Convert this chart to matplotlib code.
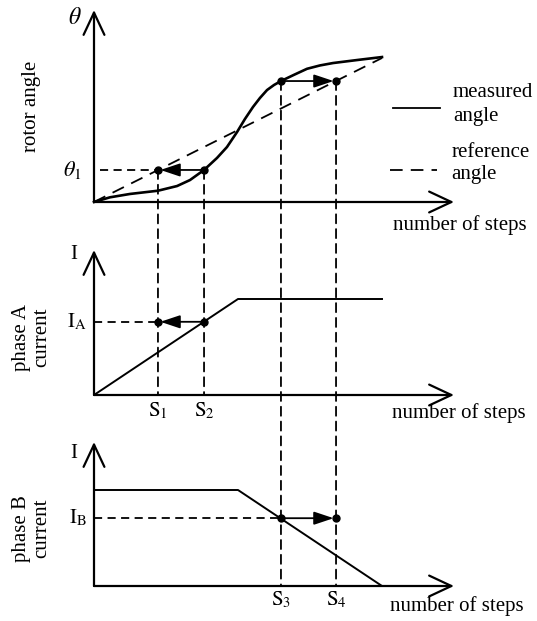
import matplotlib
matplotlib.use("Agg")
import matplotlib.pyplot as plt
from matplotlib.patches import ConnectionPatch

plt.rcParams['font.family'] = ['Liberation Serif', 'DejaVu Serif']
plt.rcParams['mathtext.fontset'] = 'stix'

# ---- data (schematic units: steps on x, quantity on y) ----
meas_steps = [0, 1.33, 3.0, 5.33, 6.92, 8.0, 9.17, 10.25, 11.08, 11.92, 12.58, 13.25,
              13.83, 14.42, 15.0, 15.58, 16.67, 17.75, 18.83, 19.92, 21.92, 24]
meas_angle = [0, 0.39, 0.67, 0.94, 1.33, 1.83, 2.67, 3.67, 4.58, 5.83, 6.92, 7.92,
              8.67, 9.33, 9.75, 10.08, 10.6, 11.1, 11.38, 11.58, 11.83, 12.08]
ref_steps = [0, 24]
ref_angle = [0, 12]
phase_a_steps = [0, 12, 24]
phase_a_current = [0, 8.0, 8.0]
phase_b_steps = [0, 12, 24]
phase_b_current = [8.0, 8.0, 0]
S1, S2, S3, S4 = 5.33, 9.17, 15.58, 20.17
theta1 = 2.67
theta3 = 10.08
I_A = 6.1
I_B = 5.65
step_labels = [r'$\mathrm{S}_1$', r'$\mathrm{S}_2$', r'$\mathrm{S}_3$', r'$\mathrm{S}_4$']

W, H = 537, 621
fig = plt.figure(figsize=(W / 100, H / 100), dpi=100)

def make_ax(bottom_px, top_px, ytop):
    ax = fig.add_axes([94 / W, 1 - bottom_px / H, (454 - 94) / W, (bottom_px - top_px) / H])
    ax.set_xlim(0, 30)
    ax.set_ylim(0, ytop)
    ax.axis('off')
    ap = dict(arrowstyle='->,head_length=1.6,head_width=0.75', lw=1.6, color='black',
              shrinkA=0, shrinkB=0, mutation_scale=10)
    ax.annotate('', xy=(0, 1), xytext=(0, 0), xycoords='axes fraction', arrowprops=ap,
                annotation_clip=False)
    ax.annotate('', xy=(1, 0), xytext=(0, 0), xycoords='axes fraction', arrowprops=ap,
                annotation_clip=False)
    return ax

ax1 = make_ax(202, 10, 16.0)
ax2 = make_ax(395, 250, 145 / 12)
ax3 = make_ax(586, 442, 12.0)

FS = 15
dash_v = (0, (5, 3.2))
dash_h = (0, (4.5, 3))
arrow_p = dict(arrowstyle='-|>,head_length=1.2,head_width=0.4', lw=1.3, color='black',
               shrinkA=0, shrinkB=0, mutation_scale=10)

# ---- top panel ----
ax1.plot(meas_steps, meas_angle, color='black', lw=1.9, clip_on=False, solid_joinstyle='round')
ax1.plot(ref_steps, ref_angle, color='black', lw=1.3, linestyle=(0, (7, 4.5)), clip_on=False)
ax1.plot([0.5, S1], [theta1, theta1], color='black', lw=1.3, linestyle=dash_h)
ax1.plot([S1, S2], [theta1, theta1], 'o', color='black', ms=5)
ax1.plot([S3, S4], [theta3, theta3], 'o', color='black', ms=5)
ax1.annotate('', xy=(S1 + 0.2, theta1), xytext=(S2, theta1), arrowprops=arrow_p)
ax1.annotate('', xy=(S4 - 0.2, theta3), xytext=(S3, theta3), arrowprops=arrow_p)
ax1.text(-1.0, 15.3, r'$\theta$', fontsize=17, ha='right', va='center')
ax1.text(-1.0, theta1, r'$\theta_1$', fontsize=16, ha='right', va='center')
ax1.text(-5.2, 8.0, 'rotor angle', fontsize=FS, rotation=90, ha='center', va='center')
ax1.text(24.9, -1.9, 'number of steps', fontsize=FS, ha='left', va='center')

# legend-like annotations
ax1.plot([24.9, 28.8], [7.85, 7.85], color='black', lw=1.3, clip_on=False)
ax1.text(29.9, 9.1, 'measured', fontsize=FS, ha='left', va='center')
ax1.text(29.9, 7.1, 'angle', fontsize=FS, ha='left', va='center')
ax1.plot([24.7, 28.6], [2.67, 2.67], color='black', lw=1.3, linestyle=(0, (7, 4.5)), clip_on=False)
ax1.text(29.8, 4.1, 'reference', fontsize=FS, ha='left', va='center')
ax1.text(29.8, 2.3, 'angle', fontsize=FS, ha='left', va='center')

# ---- middle panel ----
ax2.plot(phase_a_steps, phase_a_current, color='black', lw=1.4)
ax2.plot([0, S1], [I_A, I_A], color='black', lw=1.3, linestyle=dash_h)
ax2.plot([S1, S2], [I_A, I_A], 'o', color='black', ms=5)
ax2.annotate('', xy=(S1 + 0.2, I_A), xytext=(S2, I_A), arrowprops=arrow_p)
ax2.text(-1.4, 145 / 12 - 0.4, 'I', fontsize=FS, ha='right', va='center')
ax2.text(-0.6, I_A, r'$\mathrm{I}_\mathrm{A}$', fontsize=FS, ha='right', va='center')
ax2.text(-5.2, 4.8, 'phase A\ncurrent', fontsize=FS, rotation=90, ha='center', va='center',
         linespacing=1.15)
ax2.text(24.8, -1.5, 'number of steps', fontsize=FS, ha='left', va='center')
ax2.text(S1, -1.35, step_labels[0], fontsize=FS, ha='center', va='center')
ax2.text(S2, -1.35, step_labels[1], fontsize=FS, ha='center', va='center')

# ---- bottom panel ----
ax3.plot(phase_b_steps, phase_b_current, color='black', lw=1.4)
ax3.plot([0, S3], [I_B, I_B], color='black', lw=1.3, linestyle=dash_h)
ax3.plot([S3, S4], [I_B, I_B], 'o', color='black', ms=5)
ax3.annotate('', xy=(S4 - 0.2, I_B), xytext=(S3, I_B), arrowprops=arrow_p)
ax3.text(-1.4, 11.0, 'I', fontsize=FS, ha='right', va='center')
ax3.text(-0.6, I_B, r'$\mathrm{I}_\mathrm{B}$', fontsize=FS, ha='right', va='center')
ax3.text(-5.2, 4.8, 'phase B\ncurrent', fontsize=FS, rotation=90, ha='center', va='center',
         linespacing=1.15)
ax3.text(24.7, -1.7, 'number of steps', fontsize=FS, ha='left', va='center')
ax3.text(S3, -1.2, step_labels[2], fontsize=FS, ha='center', va='center')
ax3.text(S4, -1.2, step_labels[3], fontsize=FS, ha='center', va='center')

# ---- vertical dashed projection lines across panels ----
for s, y_top, ax_top, ax_bot in [(S1, theta1, ax1, ax2), (S2, theta1, ax1, ax2),
                                 (S3, theta3, ax1, ax3), (S4, theta3, ax1, ax3)]:
    con = ConnectionPatch(xyA=(s, y_top), coordsA=ax_top.transData,
                          xyB=(s, 0), coordsB=ax_bot.transData,
                          linestyle=dash_v, lw=1.3, color='black')
    fig.add_artist(con)

fig.savefig('out.png', dpi=100, facecolor='white')
